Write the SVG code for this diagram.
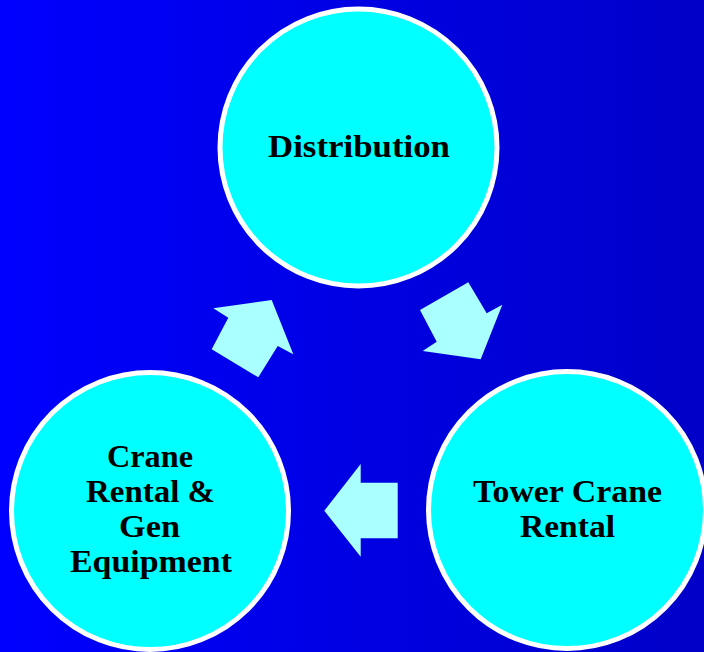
<svg xmlns="http://www.w3.org/2000/svg" width="704" height="652" viewBox="0 0 704 652">
  <defs>
    <linearGradient id="bg" x1="0" y1="0" x2="1" y2="0">
      <stop offset="0" stop-color="#0000ff"/>
      <stop offset="1" stop-color="#0000c8"/>
    </linearGradient>
  </defs>
  <style>
    .node circle { fill: #00ffff; stroke: #ffffff; stroke-width: 5; }
    .node text { font-family: "Liberation Serif", "Times New Roman", serif; font-weight: bold; font-size: 31px; fill: #000000; text-anchor: middle; }
    .arrow { fill: #aaffff; stroke: none; }
  </style>
  <rect x="0" y="0" width="704" height="652" fill="url(#bg)"/>
  <g id="connectors">
    <polygon class="arrow" points="211.7,349.3 258.3,377.3 277.7,346 293.3,354.3 271.7,300 213.3,308.3 228.3,317.7"/>
    <polygon class="arrow" points="420,310 468.3,282.3 486.7,313.3 502.3,304.7 480.7,359.3 422.7,351 436.7,341.7"/>
    <polygon class="arrow" points="324.3,510.7 360.7,464 360.7,482.7 397.7,482.7 397.7,538.3 360.7,538.3 360.7,556.7"/>
  </g>
  <g id="distribution" class="node">
    <circle cx="358.5" cy="147.5" r="138.5"/>
    <text x="359" y="157" textLength="182" lengthAdjust="spacingAndGlyphs">Distribution</text>
  </g>
  <g id="crane-rental" class="node">
    <circle cx="150" cy="511" r="138.5"/>
    <text x="150" y="467" textLength="86" lengthAdjust="spacingAndGlyphs">Crane</text>
    <text x="150.5" y="502" textLength="129" lengthAdjust="spacingAndGlyphs">Rental &amp;</text>
    <text x="149.5" y="537" textLength="61" lengthAdjust="spacingAndGlyphs">Gen</text>
    <text x="151" y="572" textLength="162" lengthAdjust="spacingAndGlyphs">Equipment</text>
  </g>
  <g id="tower-crane-rental" class="node">
    <circle cx="567" cy="510" r="138.5"/>
    <text x="567.5" y="502" textLength="189" lengthAdjust="spacingAndGlyphs">Tower Crane</text>
    <text x="567.5" y="537" textLength="95" lengthAdjust="spacingAndGlyphs">Rental</text>
  </g>
</svg>
